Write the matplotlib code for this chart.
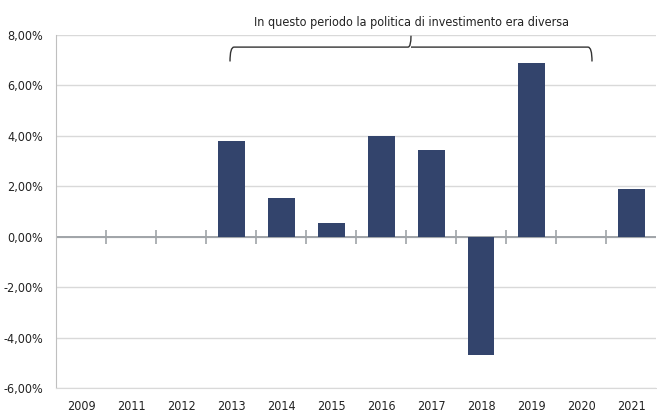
import numpy as np
import matplotlib.pyplot as plt
from matplotlib.path import Path
from matplotlib.patches import PathPatch
from matplotlib.ticker import FuncFormatter

years = ['2009', '2011', '2012', '2013', '2014', '2015', '2016', '2017', '2018', '2019', '2020', '2021']
values = [0, 0, 0, 3.80, 1.55, 0.56, 3.98, 3.45, -4.68, 6.88, 0, 1.90]
note = 'In questo periodo la politica di investimento era diversa'

plt.rcParams['font.family'] = ['DejaVu Sans']
plt.rcParams['font.stretch'] = 'condensed'

fig = plt.figure(figsize=(6.57, 4.12), dpi=100)
ax = fig.add_axes([56 / 657, 24 / 412, 600 / 657, 353 / 412])

x = np.arange(len(years))
ax.bar(x, values, width=0.54, color='#33446c', zorder=3)

ax.set_xlim(-0.5, len(years) - 0.5)
ax.set_ylim(-6, 8)
ax.set_yticks(np.arange(-6, 9, 2))
ax.yaxis.set_major_formatter(FuncFormatter(lambda v, p: f'{v:.2f}%'.replace('.', ',')))
ax.set_xticks(x)
ax.set_xticklabels(years)
ax.tick_params(axis='both', length=0, labelsize=9, colors='#222222')
ax.tick_params(axis='x', pad=9)
ax.tick_params(axis='y', pad=9)

ax.grid(axis='y', color='#d9d9d9', linewidth=1, zorder=0)
for s in ['top', 'right']:
    ax.spines[s].set_visible(False)
ax.spines['left'].set_color('#bfbfbf')
ax.spines['bottom'].set_color('#d9d9d9')

# zero line with category separators
ax.axhline(0, color='#a0a4a8', linewidth=1.4, zorder=2)
ax.plot(x[1:] - 0.5, np.zeros(len(x) - 1), linestyle='none', marker='|',
        markersize=10, markeredgewidth=1.2, color='#a0a4a8', zorder=2)

# brace over 2013-2020
x0, x1 = 2.98, 10.22
xm = (x0 + x1) / 2
yb, ye, yt = 7.52, 6.95, 7.97
verts = [(x0, ye), (x0, yb), (x0 + 0.08, yb),
         (xm - 0.06, yb), (xm, yb), (xm, yt),
         (xm, yb), (xm + 0.06, yb),
         (x1 - 0.08, yb), (x1, yb), (x1, ye)]
codes = [Path.MOVETO, Path.CURVE3, Path.CURVE3,
         Path.LINETO, Path.CURVE3, Path.CURVE3,
         Path.MOVETO, Path.LINETO,
         Path.LINETO, Path.CURVE3, Path.CURVE3]
ax.add_patch(PathPatch(Path(verts, codes), facecolor='none', edgecolor='#333333',
                       linewidth=1, clip_on=False, zorder=4))
ax.text(xm, 8.5, note, ha='center', va='center', fontsize=9, color='#222222', clip_on=False)

fig.savefig('out.png', dpi=100)
